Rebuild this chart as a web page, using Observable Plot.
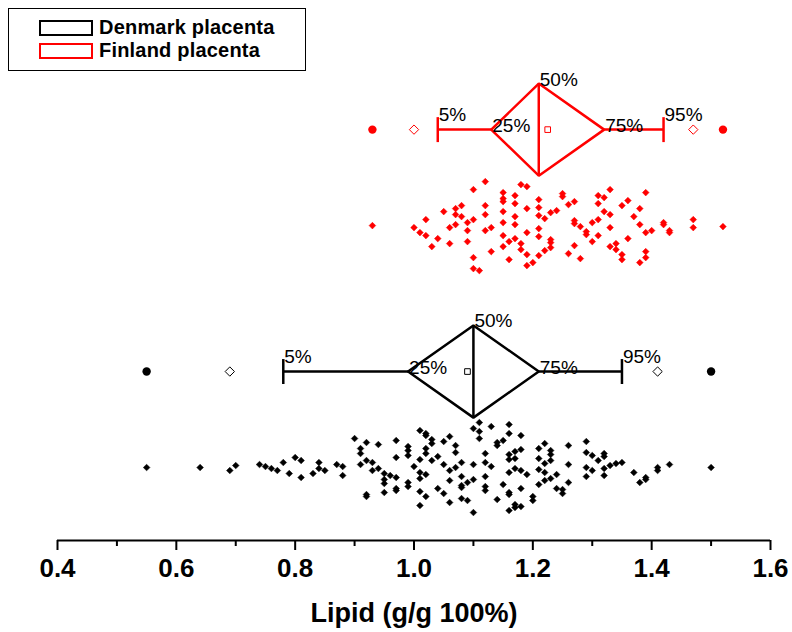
<!DOCTYPE html>
<html>
<head>
<meta charset="utf-8">
<script src="https://cdn.jsdelivr.net/npm/d3@7"></script>
<script src="https://cdn.jsdelivr.net/npm/@observablehq/plot@0.6"></script>
<style>
  body { margin: 0; background: #fff; font-family: "Liberation Sans", Arial, sans-serif; }
  #wrap { position: relative; width: 792px; height: 632px; }
  #legend { position: absolute; left: 8px; top: 8px; width: 298px; height: 63px; border: 1.2px solid #000; box-sizing: border-box; background: #fff; }
  .sw { position: absolute; left: 30px; width: 54px; height: 16px; box-sizing: border-box; border: 2.2px solid #000; }
  .lt { position: absolute; left: 90px; font-weight: bold; font-size: 20px; line-height: 20px; color: #000; white-space: nowrap; letter-spacing: 0.2px; }
</style>
</head>
<body>
<div id="wrap"><div id="chart"></div><div id="legend"></div></div>
<script>
// ---- data ----
const groups = ["Denmark placenta", "Finland placenta"];
const groupColors = ["#000000", "#ff0000"];
const statMin    = [0.55, 0.93];
const statP1     = [0.69, 1.00];
const statP5     = [0.78, 1.04];
const statQ25    = [0.99, 1.13];
const statMedian = [1.10, 1.21];
const statMean   = [1.09, 1.225];
const statQ75    = [1.21, 1.32];
const statP95    = [1.35, 1.42];
const statP99    = [1.41, 1.47];
const statMax    = [1.50, 1.52];
const percentLabels = ["5%", "25%", "50%", "75%", "95%"];
const xTicks = [0.4, 0.6, 0.8, 1.0, 1.2, 1.4, 1.6];
const xMinorTicks = [0.5, 0.7, 0.9, 1.1, 1.3, 1.5];
const axisTitle = "Lipid (g/g 100%)";

// individual observations (value) and their vertical spread offset as drawn
const denmarkValues = [
  0.55,0.64,0.69,0.70,0.74,0.75,0.76,0.77,0.78,0.79,0.80,0.81,0.81,0.83,0.84,0.84,0.85,0.87,0.88,0.88,
  0.90,0.91,0.91,0.91,0.92,0.92,0.92,0.92,0.93,0.93,0.94,0.94,0.95,0.95,0.95,0.95,0.96,
  0.97,0.97,0.97,0.97,0.97,0.99,0.99,0.99,0.99,0.99,1.00,
  1.01,1.01,1.01,1.01,1.01,1.01,1.02,1.02,1.02,1.02,1.02,1.02,
  1.11,1.10,1.11,1.13,1.16,1.16,1.18,1.11,1.03,1.03,1.05,1.06,1.07,1.07,1.14,1.14,1.15,
  1.04,1.03,1.12,1.10,1.12,1.13,1.16,1.16,1.17,1.18,1.17,
  1.21,1.22,1.23,1.23,1.21,1.22,1.23,1.26,1.29,1.29,1.30,1.32,1.32,1.31,
  1.05,1.06,1.07,1.08,1.16,1.17,1.18,1.19,1.21,1.22,1.24,1.21,1.22,1.23,
  1.26,1.29,1.30,1.32,1.33,1.34,1.35,1.32,1.29,1.26,1.24,1.25,1.25,
  1.37,1.38,1.39,1.39,1.41,1.41,1.43,1.50,
  1.04,1.05,1.06,1.08,1.08,1.08,1.09,1.10,1.12,1.12,1.12,1.15,1.16,1.16,1.18,
  1.06,1.08,1.09,1.10,1.14,1.16,1.17,1.17,1.18,1.20,1.20
];
const denmarkSpread = [
  0,0,3,-2,-3,-1,1,3,-5,6,-10,-7,10,6,-5,1,3,-3,-1,8,
  -29,-19,-14,-3,-25,-7,27,29,-5,3,-23,1,6,12,16,25,8,
  -27,-10,10,21,23,-21,-17,-12,15,19,-1,
  -37,-8,5,11,24,38,-34,-32,-19,-14,7,29,
  -45,-39,-36,-41,-43,-34,-32,-29,-28,-24,-26,-31,-22,-15,-25,-22,-27,
  -11,-7,-14,-3,-5,-1,-13,-8,-16,-18,-9,
  -19,-24,-17,-13,-9,-4,-7,-22,-26,-15,-12,-14,-11,-7,
  -3,3,0,-5,5,1,3,7,2,5,7,17,13,11,
  -3,0,3,1,-2,-4,-5,8,9,15,21,22,26,
  5,15,10,12,0,3,-3,0,
  21,26,13,9,18,20,15,12,9,19,23,17,25,27,21,
  35,31,33,45,32,43,37,40,39,29,33
];
const finlandValues = [
  0.93,1.12,1.10,1.18,1.19,1.15,1.15,1.15,1.17,1.17,1.21,1.21,1.21,1.25,1.25,1.26,1.27,1.33,
  1.31,1.32,1.31,1.39,1.36,1.35,1.05,1.07,1.08,1.07,1.08,1.12,1.12,1.15,1.17,1.19,1.23,1.24,
  1.22,1.32,1.33,1.38,1.37,1.02,1.10,1.09,1.07,1.06,1.15,1.17,1.21,1.27,1.27,1.28,1.30,1.31,
  1.33,1.38,1.42,1.42,1.47,1.47,1.52,1.00,1.01,1.02,1.04,1.03,1.06,1.09,1.09,1.12,1.13,
  1.15,1.15,1.16,1.17,1.19,1.21,1.18,1.18,1.23,1.23,1.23,1.22,1.29,1.29,1.31,1.30,1.39,1.40,
  1.43,1.43,1.36,1.27,1.26,1.33,1.34,1.34,1.13,1.10,1.16,1.19,1.21,1.28,1.35,1.35,1.39,1.39,
  1.38,1.20,1.19,1.10,1.11
];
const finlandSpread = [
  0,-44,-36,-41,-39,-33,-27,-24,-30,-22,-26,-18,-10,-32,-29,-21,-24,-36,
  -30,-28,-22,-33,-25,-20,-14,-17,-20,-11,-9,-20,-11,-14,-9,-17,-13,-15,
  -7,-14,-11,-17,-9,-6,-6,-3,-1,2,-3,-1,3,-5,-2,1,-3,-6,
  2,-1,-3,-1,-6,2,1,2,7,10,13,21,18,5,16,5,2,
  10,21,16,13,7,11,18,24,14,17,22,25,6,9,10,16,7,5,
  5,7,13,20,28,21,18,24,26,32,34,29,30,33,29,34,26,32,
  37,37,40,43,45
];

// ---- layout of rows (in y-scale units) ----
const rowGap = 2.52;       // distance between the two groups
const spreadUnit = 96;     // spread offsets per y unit
const diamondHalf = 0.48;
const capHalf = 0.13;

const points = [];
denmarkValues.forEach((v, i) => points.push({g: 0, x: v, y: 0 - denmarkSpread[i] / spreadUnit}));
finlandValues.forEach((v, i) => points.push({g: 1, x: v, y: rowGap - finlandSpread[i] / spreadUnit}));

const marks = [];
groups.forEach((name, g) => {
  const c = g * rowGap + 1;
  const col = groupColors[g];
  const diamond = [
    {x: statQ25[g], y: c}, {x: statMedian[g], y: c + diamondHalf},
    {x: statQ75[g], y: c}, {x: statMedian[g], y: c - diamondHalf}, {x: statQ25[g], y: c}
  ];
  const segs = [
    {x1: statP5[g], x2: statQ25[g], y1: c, y2: c},
    {x1: statQ75[g], x2: statP95[g], y1: c, y2: c},
    {x1: statP5[g], x2: statP5[g], y1: c - capHalf, y2: c + capHalf},
    {x1: statP95[g], x2: statP95[g], y1: c - capHalf, y2: c + capHalf},
    {x1: statMedian[g], x2: statMedian[g], y1: c - diamondHalf, y2: c + diamondHalf}
  ];
  marks.push(Plot.link(segs, {x1: "x1", x2: "x2", y1: "y1", y2: "y2", stroke: col, strokeWidth: 2.5}));
  marks.push(Plot.line(diamond, {x: "x", y: "y", stroke: col, strokeWidth: 2.5, strokeLinejoin: "miter"}));
  // labels
  const lab = [
    {x: statP5[g], y: c, t: percentLabels[0], dy: -8.5},
    {x: statQ25[g], y: c, t: percentLabels[1], dy: 2},
    {x: statMedian[g], y: c + diamondHalf, t: percentLabels[2], dy: 2},
    {x: statQ75[g], y: c, t: percentLabels[3], dy: 2},
    {x: statP95[g], y: c, t: percentLabels[4], dy: -8.5}
  ];
  lab.forEach(d => marks.push(Plot.text([d], {x: "x", y: "y", text: "t", textAnchor: "start", lineAnchor: "bottom", dx: 1, dy: d.dy, fontSize: 19, fill: "#000"})));
  marks.push(Plot.dot([statMin[g], statMax[g]], {x: d => d, y: () => c, r: 4.2, fill: col, stroke: "none"}));
  marks.push(Plot.dot([statP1[g], statP99[g]], {x: d => d, y: () => c, symbol: "diamond2", r: 4.2, fill: "white", stroke: col, strokeWidth: 1}));
  marks.push(Plot.dot([statMean[g]], {x: d => d, y: () => c, symbol: "square2", r: 3.6, fill: "white", stroke: col, strokeWidth: 1}));
  marks.push(Plot.dot(points.filter(p => p.g === g), {x: "x", y: "y", symbol: "diamond2", r: 3, fill: col, stroke: col, strokeWidth: 0.5}));
});

const chart = Plot.plot({
  width: 792,
  height: 632,
  marginLeft: 57,
  marginRight: 22,
  marginTop: 0,
  marginBottom: 92,
  style: {fontFamily: "'Liberation Sans', Arial, sans-serif", color: "#000", background: "#fff", overflow: "visible"},
  x: {domain: [0.4, 1.6]},
  y: {domain: [-0.76, 540 / 96 - 0.76], axis: null},
  marks: [
    ...marks,
    Plot.ruleY([-0.76], {stroke: "#000", strokeWidth: 2}),
    Plot.axisX({ticks: xTicks, tickSize: 10, tickPadding: 8, strokeWidth: 2, tickFormat: d3.format(".1f"), fontSize: 26, fontWeight: "bold", label: null}),
    Plot.axisX({ticks: xMinorTicks, tickSize: 6, strokeWidth: 2, tickFormat: () => "", label: null}),
    Plot.text([axisTitle], {frameAnchor: "bottom", lineAnchor: "bottom", dy: 81, fontSize: 27, fontWeight: "bold", fill: "#000"})
  ]
});
document.getElementById("chart").appendChild(chart);

// legend
const legend = document.getElementById("legend");
groups.forEach((name, g) => {
  const sw = document.createElement("div");
  sw.className = "sw";
  sw.style.top = (11 + g * 22.5) + "px";
  sw.style.borderColor = groupColors[g];
  legend.appendChild(sw);
  const t = document.createElement("div");
  t.className = "lt";
  t.style.top = (8 + g * 22.5) + "px";
  t.textContent = name;
  legend.appendChild(t);
});
</script>
</body>
</html>
